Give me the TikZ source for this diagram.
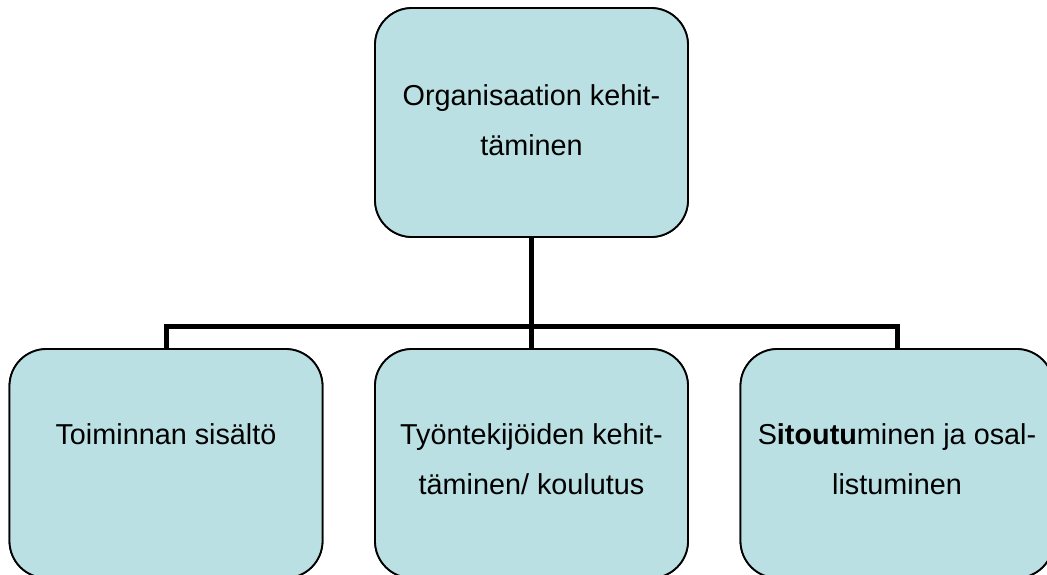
\documentclass[tikz,border=0pt]{standalone}
\usepackage{fontspec}
\setmainfont{Liberation Sans}
\definecolor{boxfill}{RGB}{186,224,227}
\begin{document}
\begin{tikzpicture}[x=1pt,y=-1pt,
  unit/.style={draw=black, line width=1.8pt, fill=boxfill, rounded corners=37pt,
    minimum width=313pt, minimum height=229pt, inner sep=0pt},
  % anchored on the baseline of the last line
  caption/.style={align=center, inner sep=0pt, anchor=base,
    font=\fontsize{28.8}{50}\selectfont},
  link/.style={draw=black, line width=5pt, line join=miter}]
  \useasboundingbox (0,0) rectangle (1047,574);

  % boxes
  \node[unit] (top) at (531.5,122.5) {};
  \node[unit] (bl) at (166,463.5) {};
  \node[unit] (bm) at (531.5,463.5) {};
  \node[unit] (br) at (897,463.5) {};

  % tree connectors
  \coordinate (bus) at (531.5,326);
  \path[link] (top.south) -- (bus);
  \path[link] (bl.north) |- (bus) -| (br.north);
  \path[link] (bus) -- (bm.north);

  % redraw boxes over connector ends
  \node[unit] at (top) {};
  \node[unit] at (bl) {};
  \node[unit] at (bm) {};
  \node[unit] at (br) {};

  % labels
  \node[caption] (ttop) at ([yshift=-148pt]top.north) {Organisaation kehit-\\täminen};
  \node[caption] (tbl) at ([yshift=-96pt]bl.north) {Toiminnan sisältö};
  \node[caption] (tbm) at ([yshift=-146pt]bm.north) {Työntekijöiden kehit-\\täminen/ koulutus};
  \node[caption] (tbr) at ([yshift=-146pt]br.north) {S\textbf{itoutu}minen ja osal-\\listuminen};
\end{tikzpicture}
\end{document}
